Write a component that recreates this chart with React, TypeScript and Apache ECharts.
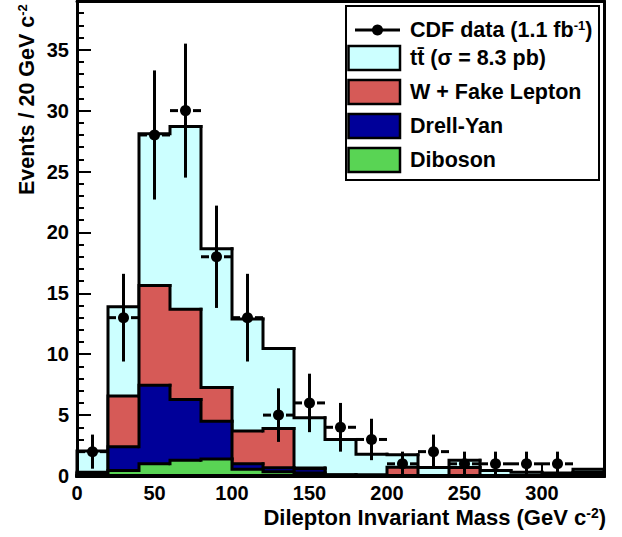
import React, { useEffect, useRef } from 'react';
import * as echarts from 'echarts';

// ---- data ----
const binEdges = [0, 20, 40, 60, 80, 100, 120, 140, 160, 180, 200, 220, 240, 260, 280, 300, 320, 340];
const ttbar = [1.75, 7.34, 12.45, 15.0, 11.39, 9.21, 6.57, 4.13, 2.9, 1.68, 1.04, 0.65, 0.6, 0.4, 0.27, 0.22, 0.25];
const wFake = [0.1, 4.16, 8.19, 7.42, 2.77, 2.69, 3.22, 0.05, 0.02, 0.05, 0.66, 0.02, 0.65, 0.02, 0.01, 0.01, 0.05];
const drellYan = [0.15, 1.95, 6.46, 4.98, 3.1, 0.45, 0.33, 0.35, 0.03, 0.02, 0.03, 0.01, 0.03, 0.01, 0.01, 0.01, 0.15];
const diboson = [0.05, 0.45, 1.0, 1.3, 1.4, 0.55, 0.35, 0.25, 0.05, 0.03, 0.02, 0.02, 0.02, 0.02, 0.01, 0.01, 0.1];
const dataCounts = [2, 13, 28, 30, 18, 13, 5, 6, 4, 3, 1, 2, 1, 1, 1, 1];
const errLow = [1.4, 3.6, 5.3, 5.5, 4.2, 3.6, 2.2, 2.4, 2.0, 1.7, 1.0, 1.4, 1.0, 1.0, 1.0, 1.0];
const errHigh = [1.4, 3.6, 5.3, 5.5, 4.2, 3.6, 2.2, 2.4, 2.0, 1.7, 1.0, 1.4, 1.0, 1.0, 1.0, 1.0];

const legendLabels = ['CDF data (1.1 fb{sup|-1})', 'tt\u0304 (\u03c3 = 8.3 pb)', 'W + Fake Lepton', 'Drell-Yan', 'Diboson'];
const xTitle = 'Dilepton Invariant Mass (GeV c{sup|-2})';
const yTitle = 'Events / 20 GeV c{sup|-2}';

const C_TT = '#ccffff';
const C_WF = '#d65a57';
const C_DY = '#000099';
const C_DB = '#59d454';
const FONT = '"Liberation Sans", Arial, sans-serif';

const sumArrays = (...arrs: number[][]) => arrs[0].map((_, i) => arrs.reduce((s, a) => s + a[i], 0));
const lvGreen = diboson;
const lvBlue = sumArrays(diboson, drellYan);
const lvRed = sumArrays(diboson, drellYan, wFake);
const lvTotal = sumArrays(diboson, drellYan, wFake, ttbar);

function histSeries(name: string, tops: number[], color: string, z: number) {
  return {
    type: 'custom',
    name,
    z,
    data: tops.map((t, i) => [binEdges[i], binEdges[i + 1], t, i === 0 ? 0 : tops[i - 1], i === tops.length - 1 ? 1 : 0]),
    encode: { x: [0, 1], y: 2 },
    renderItem: (_p: any, api: any) => {
      const x0 = api.value(0), x1 = api.value(1), top = api.value(2), prev = api.value(3), last = api.value(4);
      const p00 = api.coord([x0, 0]);
      const p0t = api.coord([x0, top]);
      const p1t = api.coord([x1, top]);
      const p10 = api.coord([x1, 0]);
      const p0p = api.coord([x0, prev]);
      const pts = [p0p, p0t, p1t];
      if (last) pts.push(p10);
      return {
        type: 'group',
        children: [
          { type: 'rect', shape: { x: p0t[0], y: p0t[1], width: p1t[0] - p0t[0], height: p00[1] - p0t[1] }, style: { fill: color } },
          { type: 'polyline', shape: { points: pts }, style: { stroke: '#000', lineWidth: 3, fill: null, lineJoin: 'miter', lineCap: 'square' } },
        ],
      };
    },
  };
}

const supRich = (size: number) => ({
  sup: { fontSize: size, fontWeight: 'bold', fontFamily: FONT, fill: '#000', verticalAlign: 'top', lineHeight: size },
});

export default function App() {
  const ref = useRef<HTMLDivElement>(null);
  useEffect(() => {
    if (!ref.current) return;
    const chart = echarts.init(ref.current, undefined, { renderer: 'svg' });
    const labelStyle = { fontSize: 20, fontWeight: 'bold', fontFamily: FONT, color: '#000' };
    const pointData = dataCounts.map((v, i) => [(binEdges[i] + binEdges[i + 1]) / 2, v, errLow[i], errHigh[i], binEdges[i], binEdges[i + 1]]);
    const legendRowY = [30, 58, 92, 126, 160];
    const legendColors = [C_TT, C_WF, C_DY, C_DB];
    const graphic: any[] = [
      { type: 'rect', z: 100, shape: { x: 346, y: 6, width: 253, height: 174 }, style: { fill: '#fff', stroke: '#000', lineWidth: 2 } },
      { type: 'line', z: 101, shape: { x1: 355, y1: legendRowY[0], x2: 400, y2: legendRowY[0] }, style: { stroke: '#000', lineWidth: 3 } },
      { type: 'circle', z: 101, shape: { cx: 377.5, cy: legendRowY[0], r: 5.5 }, style: { fill: '#000' } },
      ...legendColors.map((c, i) => ({
        type: 'rect', z: 101, shape: { x: 348.5, y: legendRowY[i + 1] - 12, width: 51.5, height: 24 },
        style: { fill: c, stroke: '#000', lineWidth: 2.5 },
      })),
      ...legendLabels.map((t, i) => ({
        type: 'text', z: 101, x: 410, y: legendRowY[i],
        style: { text: t, fontSize: 21.5, fontWeight: 'bold', fontFamily: FONT, fill: '#000', align: 'left', verticalAlign: 'middle', rich: supRich(13) },
      })),
      {
        type: 'text', z: 101, x: 606, y: 517,
        style: { text: xTitle, fontSize: 22, fontWeight: 'bold', fontFamily: FONT, fill: '#000', align: 'right', verticalAlign: 'middle', rich: supRich(14) },
      },
      {
        type: 'text', z: 101, x: 27, y: 195, rotation: Math.PI / 2,
        style: { text: yTitle, fontSize: 21.5, fontWeight: 'bold', fontFamily: FONT, fill: '#000', align: 'left', verticalAlign: 'middle', rich: supRich(13) },
      },
    ];
    const frameAxis = { type: 'value', min: 0, axisLabel: { show: false }, axisTick: { show: false }, splitLine: { show: false } };
    chart.setOption({
      animation: false,
      backgroundColor: '#fff',
      grid: { left: 77, right: 18, top: 1, bottom: 61, containLabel: false },
      xAxis: [
        {
          type: 'value', min: 0, max: 340, interval: 50, position: 'bottom',
          axisLine: { show: true, lineStyle: { color: '#000', width: 3 } },
          axisTick: { show: true, inside: true, length: 12, lineStyle: { color: '#000', width: 2 } },
          axisLabel: { ...labelStyle, margin: 7, showMaxLabel: false },
          splitLine: { show: false },
        },
        { ...frameAxis, max: 340, position: 'top', z: 10, axisLine: { show: true, onZero: false, lineStyle: { color: '#000', width: 3 } } },
        { ...frameAxis, max: 340, position: 'bottom', offset: 0, z: 10, axisLine: { show: true, onZero: false, lineStyle: { color: '#000', width: 4 } } },
      ],
      yAxis: [
        {
          type: 'value', min: 0, max: 39, interval: 5, position: 'left',
          axisLine: { show: true, lineStyle: { color: '#000', width: 3 } },
          axisTick: { show: true, inside: true, length: 14, lineStyle: { color: '#000', width: 2 } },
          axisLabel: { ...labelStyle, margin: 8, showMaxLabel: false },
          splitLine: { show: false },
        },
        {
          type: 'value', min: 0, max: 39, interval: 1, position: 'left', offset: 0,
          axisLine: { show: false },
          axisTick: { show: true, inside: true, length: 7, lineStyle: { color: '#000', width: 2 } },
          axisLabel: { show: false }, splitLine: { show: false },
        },
        { ...frameAxis, max: 39, position: 'right', z: 10, axisLine: { show: true, onZero: false, lineStyle: { color: '#000', width: 3 } } },
        { ...frameAxis, max: 39, position: 'left', offset: 0, z: 10, axisLine: { show: true, onZero: false, lineStyle: { color: '#000', width: 3 } } },
      ],
      series: [
        histSeries('ttbar', lvTotal, C_TT, 2),
        histSeries('W + Fake Lepton', lvRed, C_WF, 3),
        histSeries('Drell-Yan', lvBlue, C_DY, 4),
        histSeries('Diboson', lvGreen, C_DB, 5),
        {
          type: 'custom', name: 'errors', z: 6,
          data: pointData,
          encode: { x: 0, y: 1 },
          renderItem: (_p: any, api: any) => {
            const cx = api.value(0), v = api.value(1), lo = api.value(2), hi = api.value(3), xl = api.value(4), xr = api.value(5);
            const c = api.coord([cx, v]);
            const top = api.coord([cx, v + hi]);
            const bot = api.coord([cx, Math.max(0, v - lo)]);
            const left = api.coord([xl, v]);
            const right = api.coord([xr, v]);
            const gap = 7.5;
            const ls = { stroke: '#000', lineWidth: 3 };
            return {
              type: 'group',
              children: [
                { type: 'line', shape: { x1: c[0], y1: top[1], x2: c[0], y2: bot[1] }, style: ls },
                { type: 'line', shape: { x1: left[0], y1: c[1], x2: c[0] - gap, y2: c[1] }, style: ls },
                { type: 'line', shape: { x1: c[0] + gap, y1: c[1], x2: right[0], y2: c[1] }, style: ls },
              ],
            };
          },
        },
        {
          type: 'scatter', name: 'CDF data', z: 7,
          data: pointData.map((d) => [d[0], d[1]]),
          symbol: 'circle', symbolSize: 11,
          itemStyle: { color: '#000', opacity: 1 },
        },
      ],
      graphic,
    });
    return () => chart.dispose();
  }, []);
  return <div ref={ref} style={{ position: 'absolute', left: 0, top: 0, width: 622, height: 537 }} />;
}
